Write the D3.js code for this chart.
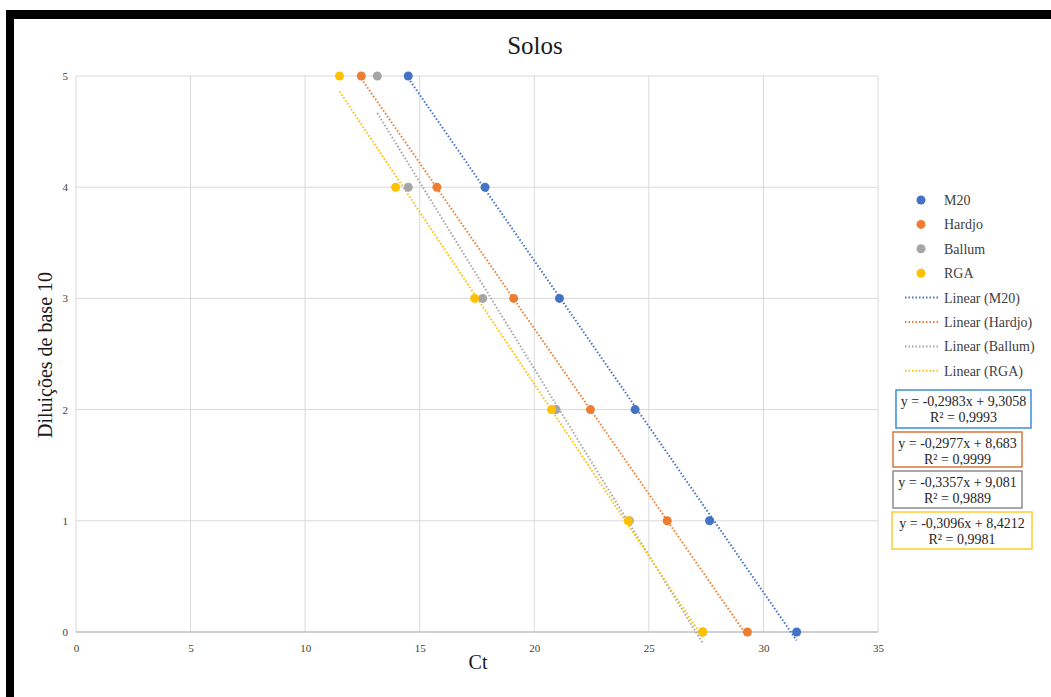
<!DOCTYPE html>
<html>
<head>
<meta charset="utf-8">
<script src="https://cdn.jsdelivr.net/npm/d3@7"></script>
<style>
  body { margin: 0; background: #fff; }
  svg { display: block; }
  text { font-family: "Liberation Serif", "Times New Roman", serif; }
</style>
</head>
<body>
<svg width="1051" height="697"></svg>
<script>
// dilution levels (y) and Ct readings (x) per series
var dilutions = [5, 4, 3, 2, 1, 0];
var ctM20    = [14.5, 17.85, 21.1, 24.4, 27.65, 31.45];
var ctHardjo = [12.45, 15.75, 19.1, 22.45, 25.8, 29.3];
var ctBallum = [13.15, 14.5, 17.75, 20.95, 24.15, 27.35];
var ctRGA    = [11.5, 13.95, 17.4, 20.75, 24.1, 27.35];

var seriesNames = ["M20", "Hardjo", "Ballum", "RGA"];
var seriesColors = ["#4472C4", "#ED7D31", "#A5A5A5", "#FFC000"];
var boxColors = ["#3A8DD8", "#D9773D", "#8C8C8C", "#FFCC33"];
var slopes = [-0.2983, -0.2977, -0.3357, -0.3096];
var intercepts = [9.3058, 8.683, 9.081, 8.4212];
var equations = ["y = -0,2983x + 9,3058", "y = -0,2977x + 8,683", "y = -0,3357x + 9,081", "y = -0,3096x + 8,4212"];
var rSquared = ["R² = 0,9993", "R² = 0,9999", "R² = 0,9889", "R² = 0,9981"];

var xTicks = [0, 5, 10, 15, 20, 25, 30, 35];
var yTicks = [0, 1, 2, 3, 4, 5];

var svg = d3.select("svg");

// frame like the screenshot: black bars top and left
svg.append("rect").attr("x", 6).attr("y", 10).attr("width", 1045).attr("height", 9).attr("fill", "#000");
svg.append("rect").attr("x", 6).attr("y", 10).attr("width", 8).attr("height", 687).attr("fill", "#000");

var x = d3.scaleLinear().domain([0, 35]).range([76, 878]);
var y = d3.scaleLinear().domain([0, 5]).range([632, 76]);

// grid
svg.append("g").selectAll("line").data(xTicks).enter().append("line")
    .attr("x1", function (d) { return x(d); }).attr("x2", function (d) { return x(d); })
    .attr("y1", y(5)).attr("y2", y(0))
    .attr("stroke", "#d9d9d9").attr("stroke-width", 1);
svg.append("g").selectAll("line").data(yTicks).enter().append("line")
    .attr("x1", x(0)).attr("x2", x(35))
    .attr("y1", function (d) { return y(d); }).attr("y2", function (d) { return y(d); })
    .attr("stroke", function (d) { return d === 0 ? "#bfbfbf" : "#d9d9d9"; })
    .attr("stroke-width", function (d) { return d === 0 ? 1.5 : 1; });

// axes (labels only, lines come from grid)
var xAxis = svg.append("g").attr("transform", "translate(0," + (y(0) + 6) + ")")
    .call(d3.axisBottom(x).tickValues(xTicks).tickFormat(d3.format("d")).tickSize(0).tickPadding(6));
var yAxis = svg.append("g").attr("transform", "translate(" + (x(0) - 6) + ",0)")
    .call(d3.axisLeft(y).tickValues(yTicks).tickFormat(d3.format("d")).tickSize(0).tickPadding(2));
[xAxis, yAxis].forEach(function (a) {
    a.select(".domain").remove();
    a.selectAll("text").style("font-size", "11px").attr("fill", "#404040");
});

// titles
svg.append("text").attr("x", 535).attr("y", 54).attr("text-anchor", "middle")
    .attr("font-size", 25).attr("fill", "#1a1a1a").text("Solos");
svg.append("text").attr("x", 478).attr("y", 669).attr("text-anchor", "middle")
    .attr("font-size", 20).attr("fill", "#1a1a1a").text("Ct");
svg.append("text").attr("transform", "translate(52,355) rotate(-90)").attr("text-anchor", "middle")
    .attr("font-size", 20).attr("fill", "#1a1a1a").text("Diluições de base 10");

var allCt = [ctM20, ctHardjo, ctBallum, ctRGA];

// trendlines, from min to max Ct of each series
allCt.forEach(function (cts, i) {
    var x0 = d3.min(cts), x1 = d3.max(cts);
    svg.append("line")
        .attr("x1", x(x0)).attr("y1", y(slopes[i] * x0 + intercepts[i]))
        .attr("x2", x(x1)).attr("y2", y(slopes[i] * x1 + intercepts[i]))
        .attr("stroke", seriesColors[i]).attr("stroke-width", 2)
        .attr("stroke-dasharray", "1.5,2");
});

// points
allCt.forEach(function (cts, i) {
    svg.append("g").selectAll("circle").data(cts).enter().append("circle")
        .attr("cx", function (d) { return x(d); })
        .attr("cy", function (d, j) { return y(dilutions[j]); })
        .attr("r", 4.5)
        .attr("fill", seriesColors[i]);
});

// legend
var legY = 200, legStep = 24.4;
seriesNames.forEach(function (name, i) {
    var ly = legY + i * legStep;
    svg.append("circle").attr("cx", 921).attr("cy", ly).attr("r", 4.5).attr("fill", seriesColors[i]);
    svg.append("text").attr("x", 944).attr("y", ly + 5).attr("font-size", 14).attr("fill", "#404040").text(name);
});
seriesNames.forEach(function (name, i) {
    var ly = legY + (i + 4) * legStep;
    svg.append("line").attr("x1", 905).attr("x2", 939).attr("y1", ly).attr("y2", ly)
        .attr("stroke", seriesColors[i]).attr("stroke-width", 2).attr("stroke-dasharray", "1.5,2");
    svg.append("text").attr("x", 944).attr("y", ly + 5).attr("font-size", 14).attr("fill", "#404040").text("Linear (" + name + ")");
});

// equation boxes
var boxes = [
    { x: 896, y: 390, w: 135, h: 38 },
    { x: 893, y: 432, w: 129, h: 35 },
    { x: 893, y: 471, w: 129, h: 37 },
    { x: 892, y: 512, w: 140, h: 37 }
];
boxes.forEach(function (b, i) {
    svg.append("rect").attr("x", b.x).attr("y", b.y).attr("width", b.w).attr("height", b.h)
        .attr("fill", "#fff").attr("stroke", boxColors[i]).attr("stroke-width", 1.5);
    svg.append("text").attr("x", b.x + b.w / 2).attr("y", b.y + 16).attr("text-anchor", "middle")
        .attr("font-size", 14).attr("fill", "#262626").text(equations[i]);
    svg.append("text").attr("x", b.x + b.w / 2).attr("y", b.y + 32).attr("text-anchor", "middle")
        .attr("font-size", 14).attr("fill", "#262626").text(rSquared[i]);
});
</script>
</body>
</html>
